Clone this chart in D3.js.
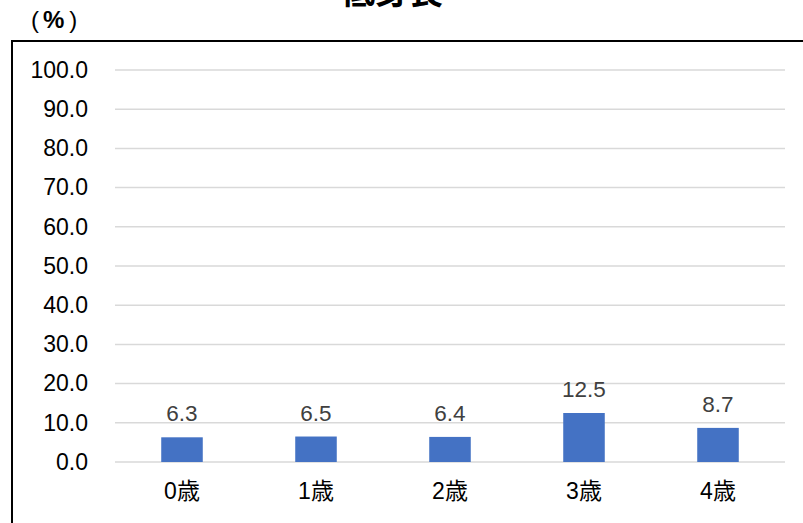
<!DOCTYPE html>
<html lang="ja">
<head>
    <meta charset="UTF-8">
    <title>低身長</title>
    <script src="https://d3js.org/d3.v7.min.js"></script>
    <style>
        body { margin: 0; background: #fff; }
        text { font-family: "Liberation Sans", Arial, "Noto Sans CJK JP", sans-serif; }
    </style>
</head>
<body>
<script>
    // chart data
    var categories = ["0歳", "1歳", "2歳", "3歳", "4歳"];
    var values = [6.3, 6.5, 6.4, 12.5, 8.7];
    var yTicks = [0, 10, 20, 30, 40, 50, 60, 70, 80, 90, 100];
    var title = "低身長";

    var W = 803, H = 523;
    var margin = { top: 70, right: 18, bottom: 61, left: 115 },
        width = W - margin.left - margin.right,
        height = H - margin.top - margin.bottom;

    var svg = d3.select("body").append("svg")
        .attr("width", W)
        .attr("height", H);

    // outer frame (runs off the right and bottom edges)
    svg.append("rect")
        .attr("x", 12).attr("y", 41)
        .attr("width", W + 10).attr("height", H + 10)
        .attr("fill", "none")
        .attr("stroke", "#000")
        .attr("stroke-width", 2);

    // title, mostly cut off at the top like the original
    svg.append("text")
        .attr("x", 392).attr("y", 4)
        .attr("text-anchor", "middle")
        .style("font-size", "34px")
        .style("font-weight", "bold")
        .style("font-family", "'Noto Sans CJK JP', sans-serif")
        .text(title);

    // unit label
    var unit = svg.append("text")
        .attr("x", 31).attr("y", 28)
        .style("font-size", "24px");
    unit.append("tspan").text("(");
    unit.append("tspan").attr("dx", 4).style("font-weight", "bold").text("%");
    unit.append("tspan").attr("dx", 5).text(")");

    var g = svg.append("g")
        .attr("transform", "translate(" + margin.left + "," + margin.top + ")");

    var x = d3.scaleBand().domain(categories).range([0, width]).paddingInner(0.69).paddingOuter(0.345);
    var y = d3.scaleLinear().domain([0, 100]).range([height, 0]);

    // gridlines
    g.selectAll(".grid")
        .data(yTicks)
        .enter().append("line")
        .attr("x1", 0).attr("x2", width)
        .attr("y1", d => y(d)).attr("y2", d => y(d))
        .attr("stroke", "#d9d9d9")
        .attr("stroke-width", 1.5);

    // y axis labels
    var yAxis = g.append("g")
        .call(d3.axisLeft(y).tickValues(yTicks).tickFormat(d3.format(".1f")).tickSize(0).tickPadding(27));
    yAxis.select(".domain").remove();
    yAxis.selectAll("text")
        .attr("fill", "#000")
        .style("font-size", "23px")
        .style("font-family", "'Liberation Sans', Arial, sans-serif");

    // bars
    g.selectAll(".bar")
        .data(values)
        .enter().append("rect")
        .attr("x", (d, i) => x(categories[i]))
        .attr("y", d => y(d))
        .attr("width", x.bandwidth())
        .attr("height", d => height - y(d))
        .attr("fill", "#4472c4");

    // value labels
    g.selectAll(".val")
        .data(values)
        .enter().append("text")
        .attr("x", (d, i) => x(categories[i]) + x.bandwidth() / 2)
        .attr("y", d => y(d) - 16)
        .attr("text-anchor", "middle")
        .attr("fill", "#404040")
        .style("font-size", "22.5px")
        .text(d => d.toFixed(1));

    // x axis labels
    var xAxis = g.append("g")
        .attr("transform", "translate(0," + height + ")")
        .call(d3.axisBottom(x).tickSize(0).tickPadding(21));
    xAxis.select(".domain").remove();
    xAxis.selectAll("text")
        .attr("fill", "#000")
        .style("font-size", "23px")
        .style("font-family", "'Liberation Sans', Arial, 'Noto Sans CJK JP', sans-serif");
</script>
</body>
</html>
